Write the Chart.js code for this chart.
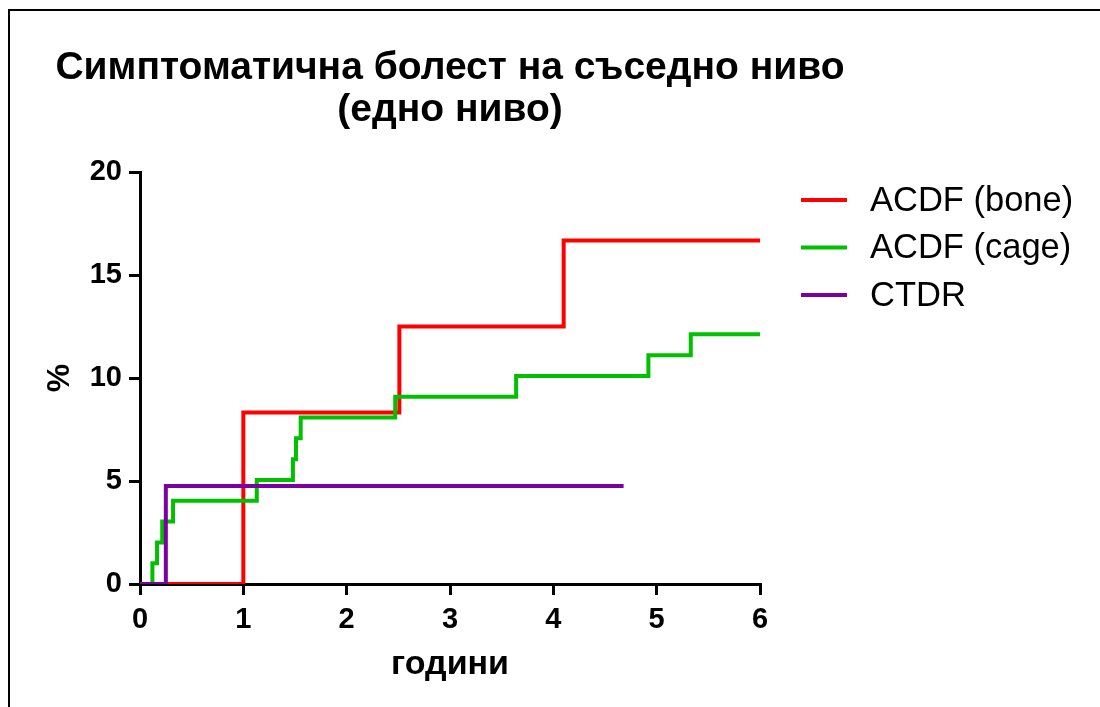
<!DOCTYPE html>
<html>
<head>
<meta charset="utf-8">
<script src="https://cdn.jsdelivr.net/npm/chart.js@4.4.1/dist/chart.umd.min.js"></script>
<style>
  html, body { margin: 0; padding: 0; background: #fff; }
  #wrap { position: relative; width: 1100px; height: 707px; overflow: hidden; }
  #frame { position: absolute; left: 8px; top: 9px; width: 1200px; height: 800px; border: 2px solid #000; box-sizing: border-box; pointer-events: none; }
  canvas { position: absolute; left: 0; top: 0; }
</style>
</head>
<body>
<div id="wrap">
  <canvas id="c" width="1100" height="707"></canvas>
  <div id="frame"></div>
</div>
<script>
// Cumulative incidence (%) of symptomatic adjacent-level disease over follow-up years
const seriesNames = ['ACDF (bone)', 'ACDF (cage)', 'CTDR'];
const seriesColors = ['#FF0000', '#00C000', '#7B00A0'];

const boneYears  = [0, 1.0, 2.51, 4.10, 6.0];
const bonePct    = [0, 8.33, 12.5, 16.67, 16.67];

const cageYears  = [0, 0.12, 0.165, 0.215, 0.32, 1.13, 1.48, 1.51, 1.555, 2.47, 3.64, 4.92, 5.33, 6.0];
const cagePct    = [0, 1.01, 2.02, 3.03, 4.04, 5.05, 6.06, 7.07, 8.08, 9.09, 10.1, 11.11, 12.12, 12.12];

const ctdrYears  = [0, 0.25, 4.68];
const ctdrPct    = [0, 4.76, 4.76];

const xTicks = [0, 1, 2, 3, 4, 5, 6];
const yTicks = [0, 5, 10, 15, 20];

const titleLines = ['Симптоматична болест на съседно ниво', '(едно ниво)'];
const xTitle = 'години';
const yTitle = '%';

const FONT = '"Liberation Sans", Arial, Helvetica, sans-serif';

function toPoints(xs, ys) {
  return xs.map((x, i) => ({ x: x, y: ys[i] }));
}

const series = [
  toPoints(boneYears, bonePct),
  toPoints(cageYears, cagePct),
  toPoints(ctdrYears, ctdrPct)
];

// Title centred over the plot area
const titlePlugin = {
  id: 'plotTitle',
  afterDraw(chart) {
    const { ctx, chartArea } = chart;
    const cx = (chartArea.left + chartArea.right) / 2;
    ctx.save();
    ctx.fillStyle = '#000';
    ctx.font = 'bold 39px ' + FONT;
    ctx.textAlign = 'center';
    ctx.textBaseline = 'middle';
    titleLines.forEach((line, i) => ctx.fillText(line, cx, 68 + i * 42));
    ctx.restore();
  }
};

// Line-sample legend to the right of the plot
const legendPlugin = {
  id: 'sideLegend',
  afterDraw(chart) {
    const { ctx } = chart;
    ctx.save();
    chart.data.datasets.forEach((ds, i) => {
      const y = 200 + i * 47.5;
      ctx.strokeStyle = ds.borderColor;
      ctx.lineWidth = 4;
      ctx.lineCap = 'butt';
      ctx.beginPath();
      ctx.moveTo(801, y);
      ctx.lineTo(847, y);
      ctx.stroke();
      ctx.fillStyle = '#000';
      ctx.font = '34.5px ' + FONT;
      ctx.textAlign = 'left';
      ctx.textBaseline = 'middle';
      ctx.fillText(ds.label, 870, y + 1);
    });
    ctx.restore();
  }
};

const drawOrder = [3, 2, 1];

new Chart(document.getElementById('c'), {
  type: 'line',
  data: {
    datasets: series.map((pts, i) => ({
      label: seriesNames[i],
      data: pts,
      borderColor: seriesColors[i],
      backgroundColor: seriesColors[i],
      borderWidth: 4,
      stepped: 'before',
      pointRadius: 0,
      fill: false,
      order: drawOrder[i]
    }))
  },
  options: {
    responsive: false,
    animation: false,
    devicePixelRatio: 1,
    layout: { padding: { left: 0, top: 172, right: 340, bottom: 0 } },
    plugins: {
      legend: { display: false },
      title: { display: false },
      tooltip: { enabled: false }
    },
    scales: {
      x: {
        type: 'linear',
        min: 0,
        max: 6,
        afterBuildTicks(scale) { scale.ticks = xTicks.map(v => ({ value: v })); },
        afterFit(scale) { scale.height = 123; },
        grid: { display: true, drawOnChartArea: false, drawTicks: true, tickLength: 11, tickWidth: 3, tickColor: '#000', lineWidth: 3, color: '#000' },
        border: { display: true, color: '#000', width: 3 },
        ticks: { color: '#000', font: { family: FONT, size: 29, weight: 'bold' }, padding: 8, maxRotation: 0 },
        title: { display: true, text: xTitle, color: '#000', font: { family: FONT, size: 34, weight: 'bold' }, padding: { top: 0, bottom: 22 } }
      },
      y: {
        type: 'linear',
        min: 0,
        max: 20,
        afterBuildTicks(scale) { scale.ticks = yTicks.map(v => ({ value: v })); },
        afterFit(scale) { scale.width = 140; },
        grid: { display: true, drawOnChartArea: false, drawTicks: true, tickLength: 11, tickWidth: 3, tickColor: '#000', lineWidth: 3, color: '#000' },
        border: { display: true, color: '#000', width: 3 },
        ticks: { color: '#000', font: { family: FONT, size: 29, weight: 'bold' }, padding: 7 },
        title: { display: true, text: yTitle, color: '#000', font: { family: FONT, size: 32, weight: 'bold' }, padding: { top: 41, bottom: 0 } }
      }
    }
  },
  plugins: [titlePlugin, legendPlugin]
});
</script>
</body>
</html>
